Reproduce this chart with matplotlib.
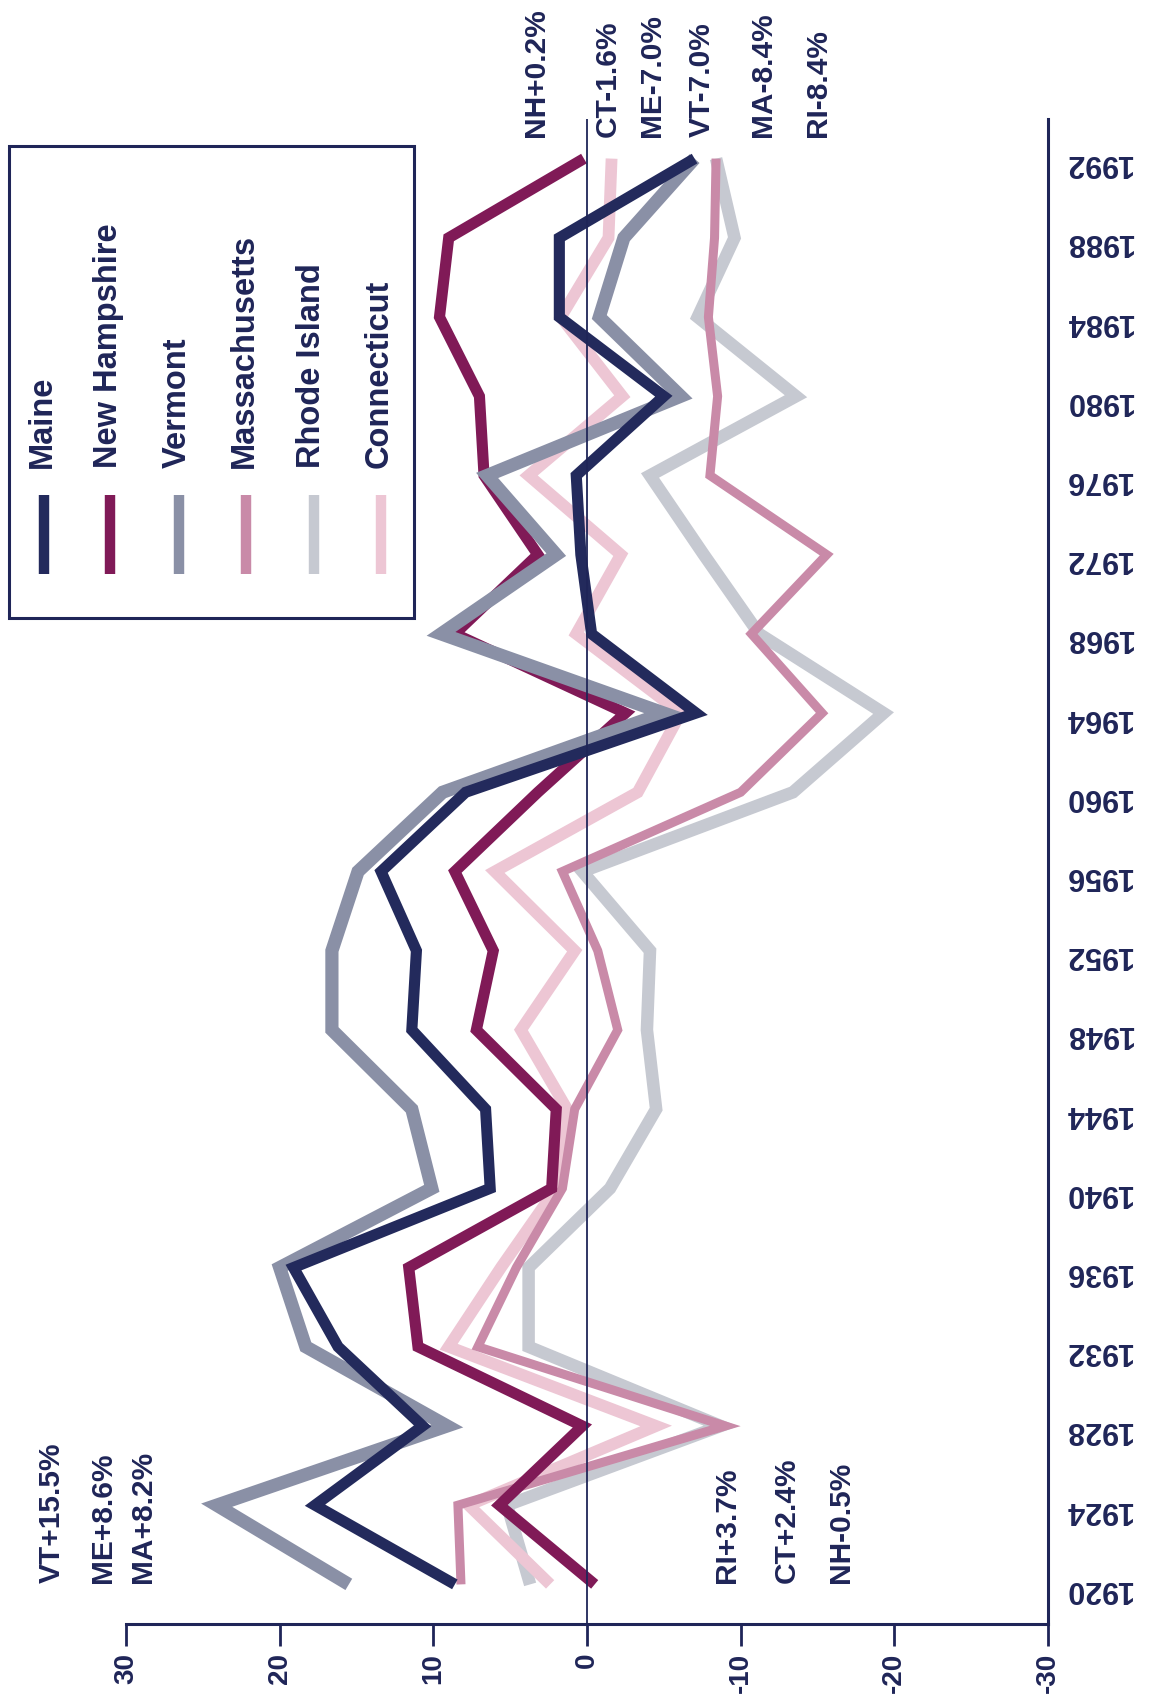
import matplotlib
matplotlib.use('Agg')
import matplotlib.pyplot as plt
from matplotlib.lines import Line2D
from matplotlib.patches import Rectangle

plt.rcParams['font.family'] = ['Liberation Sans', 'DejaVu Sans']
plt.rcParams['font.weight'] = 'bold'

# election years, 4 year steps
years = [1920, 1924, 1928, 1932, 1936, 1940, 1944, 1948, 1952, 1956,
         1960, 1964, 1968, 1972, 1976, 1980, 1984, 1988, 1992]

maine = [8.6, 17.7, 10.7, 16.2, 19.1, 6.3, 6.6, 11.4, 11.1, 13.4,
         7.9, -7.1, -0.3, 0.4, 0.7, -5.0, 1.8, 1.8, -7.0]
new_hampshire = [-0.5, 5.7, 0.3, 11.0, 11.6, 2.3, 2.0, 7.2, 6.1, 8.6,
                 3.2, -2.5, 8.6, 3.2, 6.7, 7.0, 9.6, 9.0, 0.2]
vermont = [15.5, 24.1, 9.1, 18.3, 20.0, 10.1, 11.4, 16.6, 16.6, 14.9,
           9.4, -5.0, 9.5, 2.0, 6.5, -6.1, -0.8, -2.4, -7.0]
massachusetts = [8.2, 8.4, -9.0, 7.1, 4.6, 1.6, 0.8, -2.0, -0.7, 1.6,
                 -10.0, -15.3, -10.7, -15.6, -8.0, -8.5, -7.9, -8.3, -8.4]
rhode_island = [3.7, 5.2, -8.7, 3.8, 3.8, -1.5, -4.5, -3.9, -4.1, 0.3,
                -13.4, -19.3, -11.2, -7.6, -4.1, -13.6, -7.2, -9.6, -8.4]
connecticut = [2.4, 7.7, -4.5, 9.0, 5.6, 2.0, 1.3, 4.3, 0.8, 6.0,
               -3.3, -6.1, 0.7, -2.2, 3.8, -2.3, 1.7, -1.4, -1.6]

legend_labels = ['Maine', 'New Hampshire', 'Vermont',
                 'Massachusetts', 'Rhode Island', 'Connecticut']
value_ticks = [30, 20, 10, 0, -10, -20, -30]
value_ticklabels = ['30', '20', '10', '0', '-10', '-20', '-30']
start_notes = ['VT+15.5%', 'ME+8.6%', 'MA+8.2%', 'RI+3.7%', 'CT+2.4%', 'NH-0.5%']
end_notes = ['NH+0.2%', 'CT-1.6%', 'ME-7.0%', 'VT-7.0%', 'MA-8.4%', 'RI-8.4%']

navy = '#1f2558'
colors = {'Maine': '#232a5c', 'New Hampshire': '#801a57', 'Vermont': '#8a90a6',
          'Massachusetts': '#c98aa8', 'Rhode Island': '#c6c9d1',
          'Connecticut': '#edc6d4'}
widths = {'Maine': 8, 'New Hampshire': 8, 'Vermont': 9.5,
          'Massachusetts': 6.5, 'Rhode Island': 9, 'Connecticut': 8.5}
series = {'Maine': maine, 'New Hampshire': new_hampshire, 'Vermont': vermont,
          'Massachusetts': massachusetts, 'Rhode Island': rhode_island,
          'Connecticut': connecticut}
draw_order = ['Rhode Island', 'Connecticut', 'Massachusetts',
              'New Hampshire', 'Vermont', 'Maine']

W, H = 1149, 1708


def fx(x):
    return x / W


def fy(y):
    return 1 - y / H


fig = plt.figure(figsize=(W / 100, H / 100), dpi=100)
ax = fig.add_axes([fx(126), fy(1625), fx(1048) - fx(126), fy(120) - fy(1625)])

for name in draw_order:
    ax.plot(series[name], years, color=colors[name], lw=widths[name],
            solid_joinstyle='miter', solid_capstyle='butt')

ax.axvline(0, color=navy, lw=1.3, zorder=5)

ax.set_xlim(30, -30)
ax.set_ylim(1918.0, 1994.0)

for s in ['left', 'top']:
    ax.spines[s].set_visible(False)
for s in ['right', 'bottom']:
    ax.spines[s].set_color(navy)
    ax.spines[s].set_linewidth(2.2)

ax.set_xticks(value_ticks)
ax.set_xticklabels(value_ticklabels, rotation=90, fontsize=20,
                   fontweight='bold', color=navy)
ax.tick_params(axis='x', direction='out', length=16, width=2, color=navy, pad=4)

ax.yaxis.tick_right()
ax.set_yticks(years)
ax.set_yticklabels([str(y) for y in years], rotation=180, fontsize=22,
                   fontweight='bold', color=navy)
ax.tick_params(axis='y', length=0, pad=12)

# notes at both ends of the series
start_x = [52, 103, 143, 727, 787, 841]
for note, x in zip(start_notes, start_x):
    fig.text(fx(x), fy(1583), note, rotation=90, ha='center', va='bottom',
             fontsize=21.5, fontweight='bold', color=navy)

end_x = [536, 608, 652, 702, 763, 818]
for note, x in zip(end_notes, end_x):
    fig.text(fx(x), fy(137), note, rotation=90, ha='center', va='bottom',
             fontsize=21.5, fontweight='bold', color=navy)

# hand made legend, rotated like the rest
fig.add_artist(Rectangle((fx(9), fy(619)), fx(414) - fx(9), fy(147) - fy(619),
                         transform=fig.transFigure, fill=False,
                         edgecolor=navy, lw=2.2))
leg_x = [44, 110, 179, 246, 314, 381]
for name, x in zip(legend_labels, leg_x):
    fig.add_artist(Line2D([fx(x), fx(x)], [fy(575), fy(496)],
                          transform=fig.transFigure, color=colors[name],
                          lw=7.5, solid_capstyle='butt'))
    fig.text(fx(x - 2), fy(468), name, rotation=90, ha='center', va='bottom',
             fontsize=23.5, fontweight='bold', color=navy)

fig.savefig('out.png', dpi=100, facecolor='white')
